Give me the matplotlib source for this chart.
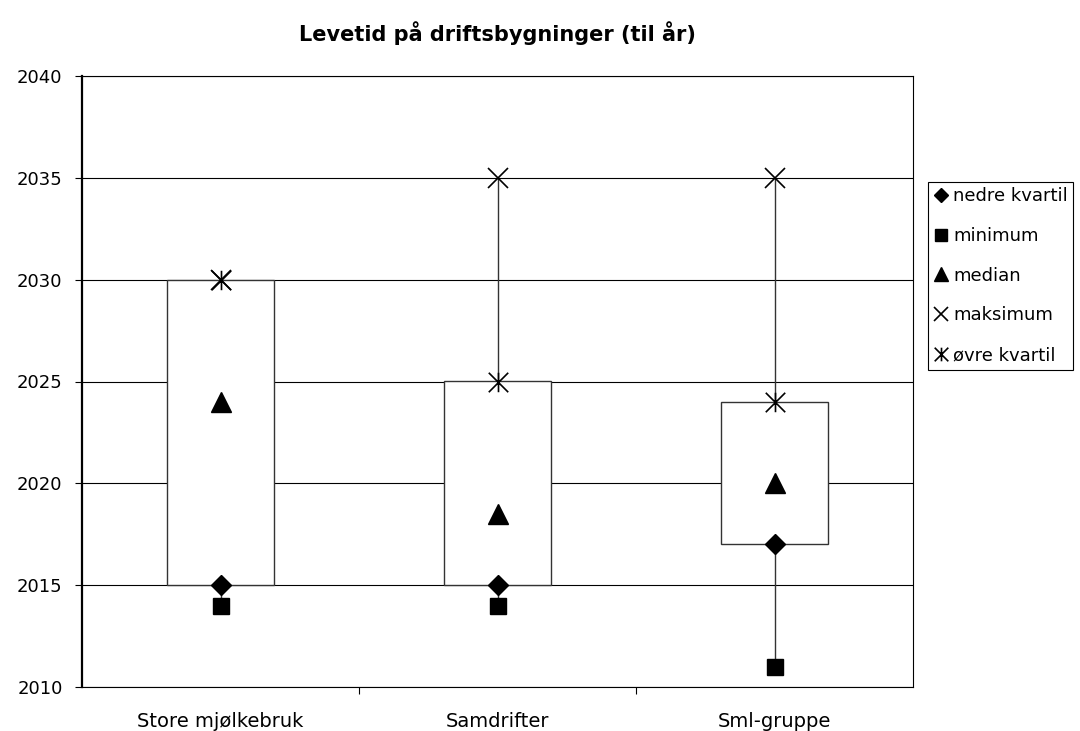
import matplotlib
matplotlib.use("Agg")
import matplotlib.pyplot as plt
from matplotlib.path import Path
import numpy as np

plt.rcParams['font.family'] = ['DejaVu Sans']

categories = ["Store mjølkebruk", "Samdrifter", "Sml-gruppe"]
nedre_kvartil = [2015, 2015, 2017]
minimum = [2014, 2014, 2011]
median = [2024, 2018.5, 2020]
maksimum = [2030, 2035, 2035]
ovre_kvartil = [2030, 2025, 2024]
yticks = [2010, 2015, 2020, 2025, 2030, 2035, 2040]

star = Path([(-1, -1), (1, 1), (-1, 1), (1, -1), (0, -1), (0, 1)],
            [Path.MOVETO, Path.LINETO, Path.MOVETO, Path.LINETO, Path.MOVETO, Path.LINETO])

fig = plt.figure(figsize=(10.8, 7.31), dpi=100)
ax = fig.add_axes([82/1080, 1-687/731, (913-82)/1080, (687-76)/731])

x = np.arange(len(categories))
ax.set_xlim(-0.5, len(categories) - 0.5)
ax.set_ylim(2010, 2040)
ax.set_yticks(yticks)
ax.yaxis.grid(True, color='black', linewidth=0.8)
ax.set_axisbelow(True)

# high-low lines
ax.vlines(x, minimum, maksimum, color='#333333', linewidth=1.0, zorder=2)
# boxes (up/down bars)
bw = 0.386
lo = np.minimum(nedre_kvartil, ovre_kvartil)
hi = np.maximum(nedre_kvartil, ovre_kvartil)
ax.bar(x, hi - lo, bottom=lo, width=bw, color='white', edgecolor='#333333', linewidth=1.0, zorder=3)

h1, = ax.plot(x, nedre_kvartil, 'D', color='black', ms=10, linestyle='none', zorder=5, label='nedre kvartil')
h2, = ax.plot(x, minimum, 's', color='black', ms=12, linestyle='none', zorder=5, label='minimum')
h3, = ax.plot(x, median, '^', color='black', ms=14, linestyle='none', zorder=5, label='median')
h4, = ax.plot(x, maksimum, 'x', color='black', ms=14, mew=1.2, linestyle='none', zorder=5, label='maksimum')
h5, = ax.plot(x, ovre_kvartil, marker=star, color='black', ms=14, mew=1.2, linestyle='none', zorder=6, label='øvre kvartil')

ax.set_xticks(x)
ax.set_xticklabels(categories, fontsize=14)
ax.set_xticks([0.5, 1.5], minor=True)
ax.tick_params(axis='x', which='major', length=0, pad=18)
ax.tick_params(axis='x', which='minor', length=5, width=0.8, direction='out')
ax.tick_params(axis='y', length=5, width=0.8, direction='out', pad=9, labelsize=13)

for s in ['top', 'right', 'bottom']:
    ax.spines[s].set_linewidth(0.8)
    ax.spines[s].set_color('black')
ax.spines['left'].set_linewidth(1.6)

fig.text(497/1080, 1-33/731, "Levetid på driftsbygninger (til år)", ha='center', va='center',
         fontsize=15, fontweight='bold')

leg = fig.legend(handles=[h1, h2, h3, h4, h5], loc='upper left',
                 bbox_to_anchor=(928/1080, 1-182/731), fontsize=13, frameon=True,
                 fancybox=False, edgecolor='black', framealpha=1, labelspacing=1.2,
                 handlelength=0.8, handletextpad=0.3, borderpad=0.3, borderaxespad=0,
                 markerscale=0.7)
leg.get_frame().set_linewidth(0.8)

fig.savefig("out.png", dpi=100)
